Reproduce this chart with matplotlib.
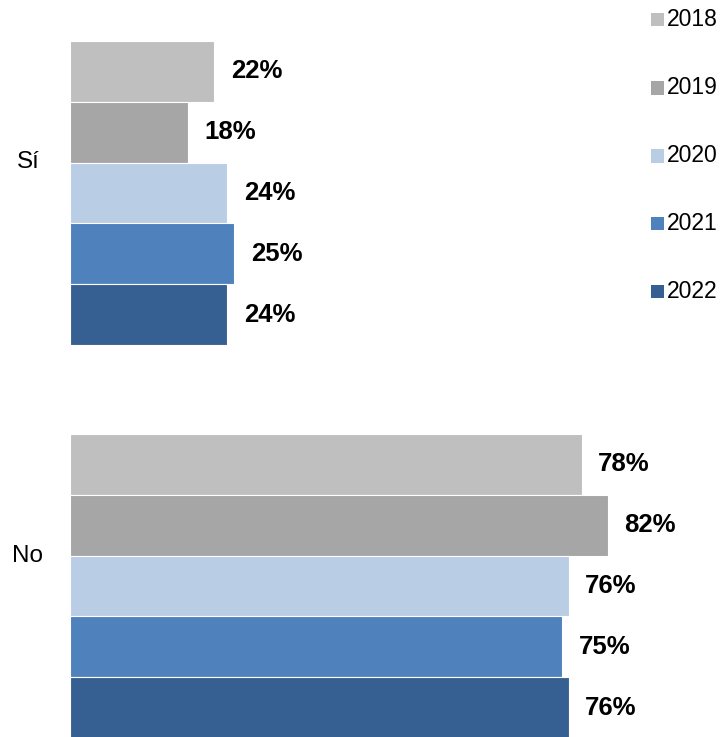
import matplotlib
matplotlib.use("Agg")
import matplotlib.pyplot as plt
from matplotlib.patches import Rectangle
import numpy as np

plt.rcParams['font.family'] = ['Liberation Sans', 'DejaVu Sans']

categories = ["Sí", "No"]
years = ["2018", "2019", "2020", "2021", "2022"]
values = {
    "2018": [22, 78],
    "2019": [18, 82],
    "2020": [24, 76],
    "2021": [25, 75],
    "2022": [24, 76],
}
colors = ["#BFBFBF", "#A6A6A6", "#B9CDE5", "#4F81BD", "#376092"]

W, H = 728, 737
fig = plt.figure(figsize=(W / 100, H / 100), dpi=100)
ax = fig.add_axes([70 / W, 0, 656 / W, 1])

group_pos = np.array([1.0, 0.0])  # Sí on top, No below
bar_h = 0.155
for i, (yr, col) in enumerate(zip(years, colors)):
    offs = (2 - i) * bar_h
    ys = group_pos + offs
    ax.barh(ys, values[yr], height=bar_h, color=col, edgecolor="white", linewidth=0.8)
    for y, v in zip(ys, values[yr]):
        ax.annotate(f"{v}%", xy=(v, y), xytext=(12, 0), textcoords="offset points",
                    ha="left", va="center", fontsize=18.5, fontweight="bold", color="black")

ax.set_xlim(0, 100)
ax.set_ylim(-(737 - 586) / 393, 1 + 193 / 393)
ax.axis("off")

# Category labels
for cat, ypx in zip(categories, [162, 556]):
    fig.text(28 / W, 1 - ypx / H, cat, ha="center", va="center", fontsize=17.5, color="black")

# Legend entries
for yr, col, ypx in zip(years, colors, [19.5, 88, 156, 223, 291]):
    fig.patches.append(Rectangle((651 / W, 1 - (ypx + 6.5) / H), 13 / W, 13 / H,
                                 transform=fig.transFigure, facecolor=col, edgecolor="none"))
    fig.text(667 / W, 1 - ypx / H, yr, ha="left", va="center", fontsize=16.5, color="black")

fig.savefig("out.png", dpi=100, facecolor="white")
